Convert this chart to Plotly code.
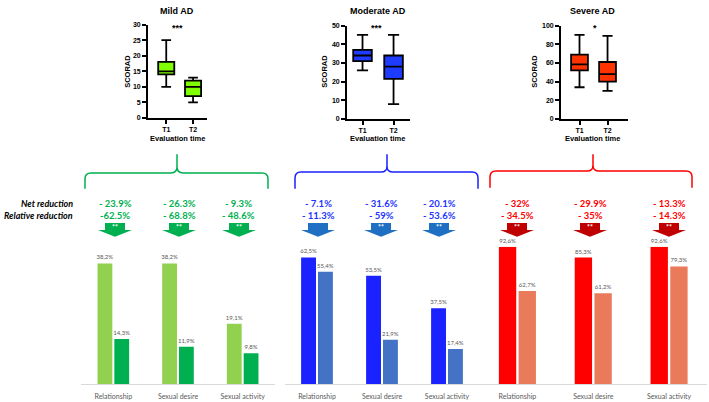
import plotly.graph_objects as go

W, H = 709, 402

# ---------------- data ----------------
times = ["T1", "T2"]
box_titles = ["Mild AD", "Moderate AD", "Severe AD"]
box_significance = ["***", "***", "*"]
box_ymax = [30, 50, 100]
box_dtick = [5, 10, 20]

mild_lowerfence = [10, 5]
mild_q1 = [14, 7]
mild_median = [15, 10]
mild_q3 = [18, 12]
mild_upperfence = [25, 13]

moderate_lowerfence = [26, 8]
moderate_q1 = [31, 21.5]
moderate_median = [34, 28]
moderate_q3 = [37, 34]
moderate_upperfence = [45, 45]

severe_lowerfence = [34, 30]
severe_q1 = [52, 40]
severe_median = [58.5, 48]
severe_q3 = [69, 61]
severe_upperfence = [90, 89]

categories = ["Relationship", "Sexual desire", "Sexual activity"]
mild_t1 = [38.2, 38.2, 19.1]
mild_t2 = [14.3, 11.9, 9.8]
moderate_t1 = [62.5, 53.5, 37.5]
moderate_t2 = [55.4, 21.9, 17.4]
severe_t1 = [92.6, 85.3, 92.6]
severe_t2 = [62.7, 61.2, 79.3]

mild_net = ["- 23.9%", "- 26.3%", "- 9.3%"]
mild_rel = ["-62.5%", "- 68.8%", "- 48.6%"]
moderate_net = ["- 7.1%", "- 31.6%", "- 20.1%"]
moderate_rel = ["- 11.3%", "- 59%", "- 53.6%"]
severe_net = ["- 32%", "- 29.9%", "- 13.3%"]
severe_rel = ["- 34.5%", "- 35%", "- 14.3%"]
mild_sig = ["**", "**", "**"]
moderate_sig = ["", "**", "**"]
severe_sig = ["**", "**", "**"]

# ---------------- layout helpers ----------------
def fx(px):
    return px / W


def fy(py):
    return 1 - py / H


BOXFONT = "Liberation Sans, Arial, sans-serif"
BARFONT = "Lato, Open Sans, sans-serif"

fig = go.Figure()
layout = dict(
    width=W, height=H, margin=dict(l=0, r=0, t=0, b=0),
    paper_bgcolor="white", plot_bgcolor="white", showlegend=False,
    barmode="group", bargap=0.48, bargroupgap=0.12,
)
annotations = []
shapes = []


def note(x, y, text, font, **kw):
    d = dict(x=fx(x), y=fy(y), xref="paper", yref="paper", text=text,
             showarrow=False, xanchor="center", yanchor="middle", font=font)
    d.update(kw)
    annotations.append(d)


# ---------------- box plots ----------------
box_stats = [
    (mild_lowerfence, mild_q1, mild_median, mild_q3, mild_upperfence),
    (moderate_lowerfence, moderate_q1, moderate_median, moderate_q3, moderate_upperfence),
    (severe_lowerfence, severe_q1, severe_median, severe_q3, severe_upperfence),
]
box_fill = ["#7FFF00", "#1E3CFF", "#FF3300"]
box_xdom = [(148, 207), (347, 410), (561, 628)]
box_ydom = [(116, 21), (117, 22), (117, 22)]
box_xrange = [(-0.68, 1.52), (-0.5, 1.53), (-0.66, 1.73)]
title_x = [177, 378, 592]
sig_x = [177, 377, 595]
ylab_x = [128, 325, 535]

for i in range(3):
    lo, q1, med, q3, hi = box_stats[i]
    n = i + 1
    xa = "x" if n == 1 else f"x{n}"
    ya = "y" if n == 1 else f"y{n}"
    fig.add_trace(go.Box(
        x=times, lowerfence=lo, q1=q1, median=med, q3=q3, upperfence=hi,
        xaxis=xa, yaxis=ya, fillcolor=box_fill[i], width=0.6, whiskerwidth=0.6,
        line=dict(color="black", width=1.8), boxpoints=False, hoverinfo="skip",
    ))
    kx = "xaxis" if n == 1 else f"xaxis{n}"
    ky = "yaxis" if n == 1 else f"yaxis{n}"
    layout[kx] = dict(
        domain=[fx(box_xdom[i][0]), fx(box_xdom[i][1])], anchor=ya,
        range=list(box_xrange[i]), showline=True, linecolor="black", linewidth=1.8,
        ticks="outside", ticklen=4, tickwidth=1.5, tickcolor="black",
        showgrid=False, zeroline=False, type="category",
        tickfont=dict(family=BOXFONT, size=7, color="black", weight="bold"),
    )
    layout[ky] = dict(
        domain=[fy(box_ydom[i][0]), fy(box_ydom[i][1])], anchor=xa,
        range=[0, box_ymax[i]], dtick=box_dtick[i], showline=True, linecolor="black",
        linewidth=1.8, ticks="outside", ticklen=4, tickwidth=1.5, tickcolor="black",
        showgrid=False, zeroline=False,
        tickfont=dict(family=BOXFONT, size=7, color="black", weight="bold"),
    )
    note(title_x[i], 7, box_titles[i],
         dict(family=BOXFONT, size=9, color="black", weight="bold"))
    note(sig_x[i], 24, box_significance[i],
         dict(family=BOXFONT, size=9, color="black", weight="bold"))
    note(title_x[i], 137, "Evaluation time",
         dict(family=BOXFONT, size=7.5, color="black", weight="bold"))
    note(ylab_x[i], 69, "SCORAD",
         dict(family=BOXFONT, size=7.5, color="black", weight="bold"), textangle=-90)

# ---------------- bar charts ----------------
bar_data = [(mild_t1, mild_t2), (moderate_t1, moderate_t2), (severe_t1, severe_t2)]
bar_colors = [("#92D050", "#00B050"), ("#1A22FF", "#4472C4"), ("#FF0000", "#E97B5B")]
bar_xdom = [(81, 275), (284.5, 479.5), (479.5, 707)]
bar_ymax = [43.5, 67.8, 92.6]


def pct(v):
    return f"{v:.1f}%".replace(".", ",")


for i in range(3):
    n = i + 4
    xa, ya = f"x{n}", f"y{n}"
    for j, vals in enumerate(bar_data[i]):
        fig.add_trace(go.Bar(
            x=categories, y=vals, xaxis=xa, yaxis=ya, offsetgroup=str(j),
            marker=dict(color=bar_colors[i][j], line=dict(width=0)),
            text=[pct(v) for v in vals], textposition="outside", constraintext="none",
            cliponaxis=False, textfont=dict(family=BARFONT, size=6, color="#595959"),
            hoverinfo="skip",
        ))
    layout[f"xaxis{n}"] = dict(
        domain=[fx(bar_xdom[i][0]), fx(bar_xdom[i][1])], anchor=ya,
        showline=True, linecolor="#D9D9D9", linewidth=1, ticks="",
        showgrid=False, zeroline=False, ticklabelstandoff=5,
        tickfont=dict(family=BARFONT, size=7, color="#595959"),
    )
    layout[f"yaxis{n}"] = dict(
        domain=[fy(387), fy(247)], anchor=xa, range=[0, bar_ymax[i]], visible=False,
    )

# ---------------- braces ----------------
brace_spec = [(85, 268, 177, 172, 188, "#00B050"),
              (295, 478, 387, 171, 188, "#1A22FF"),
              (490, 692, 593, 170, 187, "#FF0000")]


def P(x, y):
    return f"{fx(x)},{fy(y)}"


for x0, x1, xt, yh, yb, col in brace_spec:
    r = 6
    path = (f"M {P(x0, yb)} L {P(x0, yh + r)} Q {P(x0, yh)} {P(x0 + r, yh)} "
            f"L {P(xt - r, yh)} Q {P(xt, yh)} {P(xt, yh - r)} L {P(xt, 153)} "
            f"M {P(xt, yh - r)} Q {P(xt, yh)} {P(xt + r, yh)} "
            f"L {P(x1 - r, yh)} Q {P(x1, yh)} {P(x1, yh + r)} L {P(x1, yb)}")
    shapes.append(dict(type="path", xref="paper", yref="paper", path=path,
                       line=dict(color=col, width=1.5)))

# ---------------- reduction labels & arrows ----------------
note(75, 203, "<b><i>Net reduction</i></b>",
     dict(family=BARFONT, size=9, color="black"), xanchor="right")
note(75, 215, "<b><i>Relative reduction</i></b>",
     dict(family=BARFONT, size=9, color="black"), xanchor="right")

label_x = [[115, 179, 239], [318, 381, 439], [517, 590, 669]]
text_colors = ["#00B050", "#2233FF", "#FF0000"]
arrow_colors = ["#00B050", "#1F6FC2", "#C00000"]
nets = [mild_net, moderate_net, severe_net]
rels = [mild_rel, moderate_rel, severe_rel]
sigs = [mild_sig, moderate_sig, severe_sig]

for i in range(3):
    for k in range(3):
        cx = label_x[i][k]
        note(cx, 203, f"<b>{nets[i][k]}</b>",
             dict(family=BARFONT, size=9.5, color=text_colors[i]))
        note(cx, 215, f"<b>{rels[i][k]}</b>",
             dict(family=BARFONT, size=9.5, color=text_colors[i]))
        pts = [(cx - 10, 223), (cx + 10, 223), (cx + 10, 230), (cx + 17, 230),
               (cx, 237), (cx - 17, 230), (cx - 10, 230)]
        path = "M " + " L ".join(P(a, b) for a, b in pts) + " Z"
        shapes.append(dict(type="path", xref="paper", yref="paper", path=path,
                           fillcolor=arrow_colors[i], line=dict(width=0)))
        if sigs[i][k]:
            note(cx, 227, f"<b>{sigs[i][k]}</b>",
                 dict(family=BARFONT, size=7, color="white"))

layout["annotations"] = annotations
layout["shapes"] = shapes
fig.update_layout(**layout)
fig.write_html("out.html")
